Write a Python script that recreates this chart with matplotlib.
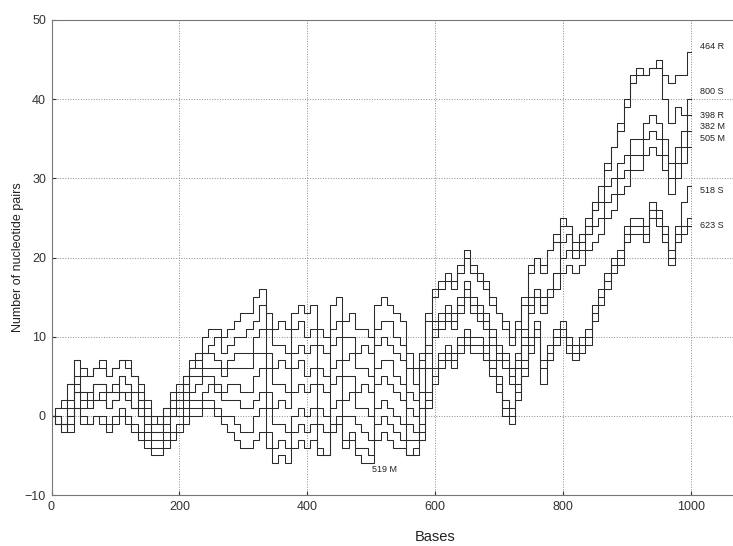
import matplotlib
matplotlib.use('Agg')
import matplotlib.pyplot as plt
import numpy as np

plt.rcParams['font.family'] = ['Liberation Sans', 'DejaVu Sans']

# positions along the sequence (every 10 bases)
bases = list(range(0, 1001, 10))

s464R = [0, 1, 1, 4, 7, 5, 5, 6, 6, 5, 6, 7, 6, 5, 4, 2, 0,
         -1, 0, 2, 2, 4, 6, 7, 8, 9, 10, 8, 9, 10,
         10, 11, 12, 14, 11, 9, 9, 8, 11, 12, 10, 11, 9, 8, 11, 12, 10, 10, 8, 9,
         8, 11, 12, 12, 10, 9, 6, 4, 7, 12,
         15, 17, 17, 17, 19, 20, 19, 17, 17, 15, 13, 11, 9, 12, 15, 18, 20, 19, 21, 23,
         25, 24, 21, 22, 24, 27, 29, 32, 34, 37, 40, 43, 44, 43, 44, 45, 43, 42, 43, 43, 46]

s800S = [0, 0, -1, 2, 5, 3, 3, 4, 4, 3, 4, 5, 4, 3, 2, 0, -1,
         -1, 1, 2, 3, 5, 7, 8, 10, 11, 11, 10, 11, 12,
         13, 13, 15, 16, 13, 11, 12, 11, 13, 14, 13, 14, 11, 10, 14, 15, 12, 13, 11, 11,
         10, 14, 15, 14, 13, 12, 8, 6, 8, 13,
         16, 16, 18, 16, 18, 21, 18, 18, 16, 14, 13, 12, 10, 11, 14, 19, 20, 18, 21, 22,
         24, 24, 21, 22, 23, 26, 29, 31, 34, 36, 39, 42, 43, 43, 44, 44, 40, 37, 39, 38, 40]

s398R = [0, 1, 2, 4, 7, 6, 5, 6, 7, 5, 6, 7, 7, 5, 3, 1, 0,
         0, 1, 3, 4, 5, 6, 6, 8, 8, 7, 6, 7, 8,
         8, 8, 10, 11, 8, 6, 7, 6, 8, 9, 8, 9, 6, 5, 9, 10, 7, 8, 6, 6,
         5, 9, 10, 9, 8, 7, 3, 2, 6, 9,
         12, 13, 14, 13, 15, 17, 15, 14, 13, 11, 9, 8, 6, 8, 11, 15, 16, 15, 16, 18,
         22, 23, 22, 23, 25, 26, 27, 29, 30, 32, 33, 35, 35, 37, 38, 37, 35, 32, 34, 36, 38]

s382M = [0, 0, -1, 1, 4, 3, 2, 4, 4, 3, 3, 5, 4, 3, 1, 0, -2,
         -2, 0, 1, 2, 3, 5, 5, 6, 6, 6, 5, 6, 6,
         6, 6, 8, 8, 6, 4, 4, 3, 6, 7, 5, 6, 4, 3, 6, 7, 5, 5, 3, 4,
         3, 6, 7, 7, 5, 4, 1, 0, 3, 8,
         11, 12, 13, 12, 14, 16, 14, 13, 12, 10, 8, 7, 5, 7, 10, 14, 16, 14, 16, 18,
         20, 21, 20, 21, 23, 24, 25, 27, 28, 30, 31, 33, 33, 35, 36, 35, 33, 30, 32, 34, 36]

s505M = [0, -1, -2, 0, 3, 1, 1, 2, 2, 1, 2, 3, 2, 1, 0, -2, -3,
         -3, -2, 0, 1, 2, 3, 4, 5, 5, 4, 3, 4, 4,
         3, 3, 5, 6, 3, 1, 2, 1, 3, 4, 3, 4, 1, 0, 4, 5, 2, 3, 1, 1,
         0, 4, 5, 4, 3, 2, -1, -2, 1, 6,
         10, 11, 12, 11, 13, 15, 13, 12, 11, 9, 7, 6, 4, 6, 9, 13, 15, 13, 15, 16,
         18, 19, 18, 19, 21, 22, 23, 25, 26, 28, 29, 31, 31, 33, 34, 33, 31, 28, 30, 32, 34]

s518S = [0, 0, -1, 0, 3, 2, 1, 2, 3, 1, 2, 3, 3, 1, 0, -1, -2,
         -2, -1, 0, 0, 1, 2, 2, 3, 4, 3, 2, 2, 2,
         1, 1, 2, 3, 1, -1, -1, -2, 0, 1, 0, 1, -1, -2, 1, 2, 0, 0, -1, -2,
         -3, 1, 2, 1, 0, -1, -3, -3, -1, 3,
         6, 8, 9, 8, 10, 11, 10, 10, 9, 7, 5, 2, 1, 4, 7, 10, 12, 7, 9, 11,
         12, 10, 9, 10, 11, 14, 16, 18, 20, 21, 24, 25, 25, 24, 27, 26, 24, 21, 24, 27, 29]

s623S = [0, -1, -2, -1, 1, 0, -1, 0, 0, -1, 0, 1, 0, -1, -2, -3, -4,
         -4, -3, -2, -1, 0, 1, 1, 2, 2, 1, 0, 0, -1,
         -2, -2, 0, 1, -2, -4, -3, -4, -2, -1, -2, -1, -4, -5, -1, 0, -3, -2, -4, -4,
         -5, -1, 0, -1, -2, -3, -5, -4, -2, 2,
         5, 7, 8, 7, 9, 10, 9, 9, 8, 6, 4, 1, 0, 3, 6, 9, 11, 6, 8, 10,
         11, 9, 8, 9, 10, 13, 15, 17, 19, 20, 23, 24, 24, 23, 26, 25, 23, 20, 23, 24, 25]

s519M = [0, -1, -1, -2, 1, -1, -1, 0, -1, -2, -1, 0, -1, -2, -3, -4, -5,
         -5, -4, -3, -2, -1, 0, 0, 1, 1, 0, -1, -2, -3,
         -4, -4, -3, -2, -4, -6, -5, -6, -4, -3, -4, -3, -5, -5, -2, -1, -4, -3, -5, -6,
         -6, -3, -2, -3, -4, -4, -5, -5, -3, 1,
         4, 6, 7, 6, 8, 9, 8, 8, 7, 5, 3, 0, -1, 2, 5, 8, 10, 4, 7, 9,
         10, 8, 7, 8, 9, 12, 14, 16, 18, 19, 22, 23, 23, 22, 25, 24, 22, 19, 22, 23, 24]

series = [s464R, s800S, s398R, s382M, s505M, s518S, s623S, s519M]

label_names = ['464 R', '800 S', '398 R', '382 M', '505 M', '518 S', '623 S', '519 M']
label_x = [1015, 1015, 1015, 1015, 1015, 1015, 1015, 501]
label_y = [46.7, 41.0, 37.9, 36.5, 35.0, 28.5, 24.1, -6.8]

x_ticks = [0, 200, 400, 600, 800, 1000]
y_ticks = [-10, 0, 10, 20, 30, 40, 50]

W, H = 733, 546
fig = plt.figure(figsize=(W / 100, H / 100), dpi=100)
ax_w = 767
ax_h = 475
ax = fig.add_axes([51.5 / W, 51 / H, ax_w / W, ax_h / H])

for vals in series:
    ax.plot(bases, vals, drawstyle='steps-mid', color='#2a2a2a', lw=0.75)

for name, lx, ly in zip(label_names, label_x, label_y):
    ax.text(lx, ly, name, fontsize=6.5, ha='left', va='center', color='#222222')

ax.set_xlim(0, 1200)
ax.set_ylim(-10, 50)
ax.set_xticks(x_ticks)
ax.set_yticks(y_ticks)
ax.grid(True, linestyle=':', color='#8a8a8a', lw=0.7)
ax.tick_params(direction='in', length=3, labelsize=9, colors='#333333', pad=4)
for sp in ax.spines.values():
    sp.set_color('#777777')
    sp.set_linewidth(0.8)
ax.set_xlabel('Bases', fontsize=10.5, color='#222222', va='center')
ax.xaxis.set_label_coords(0.5, -(537 - 495) / ax_h)
ax.set_ylabel('Number of nucleotide pairs', fontsize=9, color='#222222', va='center')
ax.yaxis.set_label_coords(-(51.5 - 18) / ax_w, 0.5)

fig.savefig('out.png', dpi=100)
